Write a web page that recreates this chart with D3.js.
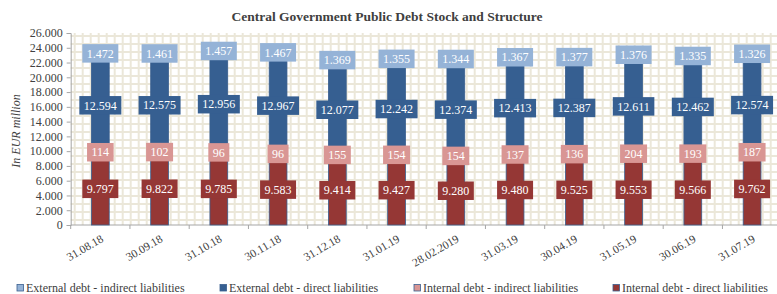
<!DOCTYPE html>
<html>
<head>
<meta charset="utf-8">
<script src="https://cdn.jsdelivr.net/npm/d3@7"></script>
<style>
  body { margin: 0; background: #fff; }
  svg text { font-family: "Liberation Serif", "Times New Roman", serif; }
</style>
</head>
<body>
<svg id="chart" width="777" height="294"></svg>
<script>
// data (EUR million)
const categories = ["31.08.18", "30.09.18", "31.10.18", "30.11.18", "31.12.18", "31.01.19",
  "28.02.2019", "31.03.19", "30.04.19", "31.05.19", "30.06.19", "31.07.19"];
const internalDirect   = [9797, 9822, 9785, 9583, 9414, 9427, 9280, 9480, 9525, 9553, 9566, 9762];
const internalIndirect = [114, 102, 96, 96, 155, 154, 154, 137, 136, 204, 193, 187];
const externalDirect   = [12594, 12575, 12956, 12967, 12077, 12242, 12374, 12413, 12387, 12611, 12462, 12574];
const externalIndirect = [1472, 1461, 1457, 1467, 1369, 1355, 1344, 1367, 1377, 1376, 1335, 1326];
const yTicks = d3.range(0, 26001, 2000);

// stack order, bottom to top
const series = [
  { name: "Internal debt - direct liabilities",   values: internalDirect,   colour: "#953735" },
  { name: "Internal debt - indirect liabilities", values: internalIndirect, colour: "#d99694" },
  { name: "External debt - direct liabilities",   values: externalDirect,   colour: "#365f91" },
  { name: "External debt - indirect liabilities", values: externalIndirect, colour: "#95b3d7" }
];
const legendOrder = [3, 2, 1, 0];

const fmt = d3.formatLocale({ decimal: ",", thousands: ".", grouping: [3], currency: ["", ""] }).format(",d");

const svg = d3.select("#chart");
const plotLeft = 70.7, plotTop = 33, plotBottom = 225;
const step = 59.25;

const x = d3.scaleBand()
  .domain(categories)
  .range([plotLeft, plotLeft + step * categories.length])
  .paddingInner(0.7)
  .paddingOuter(0.35);

const y = d3.scaleLinear().domain([0, 26000]).range([plotBottom, plotTop]);

// patterned plot background
const defs = svg.append("defs");
const pat = defs.append("pattern")
  .attr("id", "grid")
  .attr("patternUnits", "userSpaceOnUse")
  .attr("width", 8).attr("height", 8)
  .attr("x", plotLeft + 3).attr("y", plotTop + 2);
pat.append("rect").attr("width", 8).attr("height", 8).attr("fill", "#fff");
pat.append("rect").attr("x", 0).attr("y", 0).attr("width", 2).attr("height", 8).attr("fill", "#ebe7d9");
pat.append("rect").attr("x", 0).attr("y", 0).attr("width", 8).attr("height", 2).attr("fill", "#ebe7d9");

svg.append("rect")
  .attr("x", plotLeft).attr("y", plotTop)
  .attr("width", 777 - plotLeft).attr("height", plotBottom - plotTop)
  .attr("fill", "url(#grid)");

// title
svg.append("text")
  .attr("x", 387).attr("y", 21)
  .attr("text-anchor", "middle")
  .attr("font-size", 13.5).attr("font-weight", "bold")
  .attr("fill", "#404040")
  .text("Central Government Public Debt Stock and Structure");

// y axis
const yAxis = svg.append("g")
  .attr("transform", `translate(${plotLeft},0)`)
  .call(d3.axisLeft(y).tickValues(yTicks).tickSize(4).tickPadding(4).tickFormat(fmt));
yAxis.select(".domain").attr("stroke", "#a6a6a6");
yAxis.selectAll(".tick line").attr("stroke", "#a6a6a6");
yAxis.selectAll("text").attr("font-size", 12).attr("fill", "#404040")
  .style("font-family", '"Liberation Serif", serif');

svg.append("text")
  .attr("transform", `translate(20,131) rotate(-90)`)
  .attr("text-anchor", "middle")
  .attr("font-size", 12).attr("font-style", "italic")
  .attr("fill", "#404040")
  .text("In EUR million");

// x axis line and boundary ticks
svg.append("line")
  .attr("x1", plotLeft).attr("x2", 777)
  .attr("y1", plotBottom).attr("y2", plotBottom)
  .attr("stroke", "#a6a6a6");
svg.selectAll(".xtick").data(d3.range(categories.length + 1))
  .enter().append("line")
  .attr("class", "xtick")
  .attr("x1", i => plotLeft + i * x.step()).attr("x2", i => plotLeft + i * x.step())
  .attr("y1", plotBottom).attr("y2", plotBottom + 4)
  .attr("stroke", "#a6a6a6");

svg.selectAll(".xlabel").data(categories)
  .enter().append("text")
  .attr("class", "xlabel")
  .attr("transform", d => `translate(${x(d) + x.bandwidth() / 2 + 4},${plotBottom + 16}) rotate(-30)`)
  .attr("text-anchor", "end")
  .attr("font-size", 11.5)
  .attr("fill", "#404040")
  .text(d => d);

// stacked segments
const segs = [];
categories.forEach((c, i) => {
  let base = 0;
  series.forEach(s => {
    const v = s.values[i];
    segs.push({ cat: c, y0: base, y1: base + v, value: v, colour: s.colour });
    base += v;
  });
});

svg.append("g").selectAll("rect").data(segs)
  .enter().append("rect")
  .attr("x", d => x(d.cat))
  .attr("width", x.bandwidth())
  .attr("y", d => y(d.y1))
  .attr("height", d => y(d.y0) - y(d.y1))
  .attr("fill", d => d.colour)
  .attr("stroke", "#3a5f8f")
  .attr("stroke-width", 0.8);

// value labels in boxes
const labels = svg.append("g").selectAll("g").data(segs)
  .enter().append("g")
  .attr("transform", d => `translate(${x(d.cat) + x.bandwidth() / 2},${y((d.y0 + d.y1) / 2)})`);
labels.append("rect").attr("fill", d => d.colour);
labels.append("text")
  .attr("text-anchor", "middle")
  .attr("dy", "0.35em")
  .attr("font-size", 12)
  .attr("fill", "#fff")
  .text(d => fmt(d.value));
labels.each(function() {
  const g = d3.select(this);
  const w = g.select("text").node().getComputedTextLength() + 9;
  g.select("rect").attr("x", -w / 2).attr("y", -9.25).attr("width", w).attr("height", 18.5);
});

// legend
const legendX = [17, 220, 414, 613];
const legend = svg.append("g").selectAll("g").data(legendOrder)
  .enter().append("g")
  .attr("transform", (d, i) => `translate(${legendX[i]},288)`);
legend.append("rect")
  .attr("x", 0).attr("y", -3.5).attr("width", 6.5).attr("height", 6.5)
  .attr("fill", d => series[d].colour)
  .attr("stroke", "#3a5f8f").attr("stroke-width", 0.8);
legend.append("text")
  .attr("x", 9).attr("dy", "0.35em")
  .attr("font-size", 12)
  .attr("fill", "#404040")
  .text(d => series[d].name);
</script>
</body>
</html>
